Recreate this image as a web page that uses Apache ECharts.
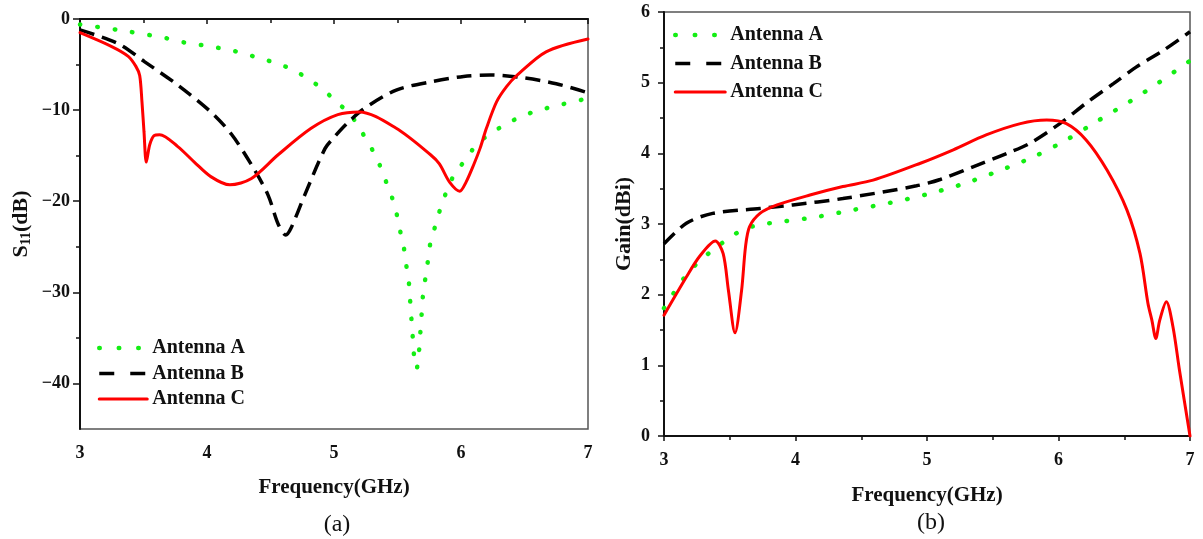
<!DOCTYPE html>
<html>
<head>
<meta charset="utf-8">
<title>Antenna S11 and Gain</title>
<script src="https://cdn.jsdelivr.net/npm/echarts@6/dist/echarts.min.js"></script>
<style>
  html, body { margin: 0; padding: 0; background: #fff; }
  #chart { width: 1203px; height: 539px; }
</style>
</head>
<body>
<div id="chart"></div>
<script>
// ---- Reflection coefficient S11 (dB) vs frequency (GHz) ----
const s11FreqA = [3.0, 3.3, 3.59, 3.71, 3.85, 3.99, 4.14, 4.27, 4.4, 4.55, 4.68, 4.8, 4.91, 5.02, 5.13, 5.2, 5.28, 5.35, 5.4, 5.45, 5.49, 5.52, 5.55, 5.57, 5.59, 5.6, 5.61, 5.62, 5.63, 5.65, 5.67, 5.68, 5.69, 5.7, 5.72, 5.74, 5.76, 5.8, 5.84, 5.89, 5.95, 6.05, 6.12, 6.23, 6.36, 6.49, 6.62, 6.77, 6.91, 7.0];
const s11A     = [-0.6, -1.2, -1.87, -2.2, -2.67, -2.93, -3.3, -3.7, -4.25, -4.87, -5.6, -6.6, -7.7, -9.1, -10.5, -12.0, -13.8, -15.7, -17.5, -19.3, -21.2, -23.2, -25.1, -27.1, -29.0, -31.0, -33.0, -34.9, -36.9, -38.4, -36.4, -34.4, -32.4, -30.4, -28.4, -26.5, -24.5, -22.6, -20.7, -18.8, -17.0, -15.2, -13.8, -12.6, -11.5, -10.6, -10.0, -9.45, -9.0, -8.7];

const s11FreqB = [3.0, 3.3, 3.51, 3.77, 4.03, 4.19, 4.35, 4.48, 4.56, 4.62, 4.66, 4.77, 4.93, 5.0, 5.1, 5.23, 5.49, 5.76, 6.02, 6.23, 6.49, 6.75, 7.0];
const s11B     = [-1.2, -2.7, -4.7, -7.25, -10.2, -12.6, -16.0, -19.3, -22.5, -23.7, -23.0, -19.3, -14.2, -13.0, -11.5, -9.9, -7.8, -6.9, -6.3, -6.15, -6.45, -7.1, -8.1];

const s11FreqC = [3.0, 3.246, 3.38, 3.44, 3.47, 3.488, 3.504, 3.522, 3.549, 3.583, 3.627, 3.77, 3.9, 4.03, 4.18, 4.35, 4.56, 4.82, 5.03, 5.2, 5.49, 5.76, 5.83, 5.91, 5.99, 6.04, 6.1, 6.15, 6.2, 6.28, 6.36, 6.44, 6.67, 7.0];
const s11C     = [-1.5, -3.0, -4.1, -5.2, -6.2, -9.1, -12.4, -15.7, -13.8, -12.8, -12.7, -14.0, -15.7, -17.3, -18.2, -17.5, -14.9, -12.0, -10.5, -10.2, -12.0, -14.9, -15.9, -17.9, -18.9, -17.9, -16.0, -14.2, -12.0, -9.1, -7.4, -6.2, -3.6, -2.2];

// ---- Gain (dBi) vs frequency (GHz) ----
const gainFreqA = [3.0, 3.15, 3.25, 3.37, 3.48, 3.6, 3.73, 3.88, 4.16, 4.44, 4.72, 5.0, 5.28, 5.53, 5.81, 6.06, 6.29, 6.54, 6.77, 7.0];
const gainA     = [1.81, 2.23, 2.44, 2.63, 2.78, 2.92, 2.99, 3.03, 3.10, 3.20, 3.30, 3.42, 3.57, 3.74, 3.95, 4.19, 4.45, 4.73, 5.01, 5.31];

const gainFreqB = [3.0, 3.17, 3.37, 3.73, 3.98, 4.36, 4.92, 5.1, 5.35, 5.61, 5.78, 6.01, 6.21, 6.42, 6.59, 6.8, 7.0];
const gainB     = [2.72, 3.01, 3.15, 3.22, 3.27, 3.36, 3.54, 3.63, 3.81, 4.0, 4.14, 4.42, 4.71, 4.99, 5.22, 5.46, 5.72];

const gainFreqC = [3.0, 3.17, 3.27, 3.39, 3.45, 3.49, 3.54, 3.59, 3.62, 3.65, 3.73, 3.86, 4.11, 4.36, 4.59, 4.95, 5.2, 5.45, 5.71, 5.91, 6.06, 6.21, 6.37, 6.52, 6.62, 6.68, 6.71, 6.74, 6.77, 6.82, 6.87, 6.92, 7.0];
const gainC     = [1.71, 2.25, 2.54, 2.76, 2.58, 2.06, 1.46, 2.06, 2.68, 2.96, 3.15, 3.27, 3.41, 3.53, 3.62, 3.86, 4.05, 4.26, 4.42, 4.47, 4.42, 4.19, 3.76, 3.20, 2.58, 1.88, 1.64, 1.38, 1.64, 1.90, 1.55, 0.93, 0.0];

// Axis tick values
const freqTicks = [3, 4, 5, 6, 7];
const s11MajorTicks = [-40, -30, -20, -10, 0];
const s11MinorTicks = [-35, -25, -15, -5];
const seriesNames = ['Antenna A', 'Antenna B', 'Antenna C'];

const zip = (xs, ys) => xs.map((x, i) => [x, ys[i]]);

const SERIF = '"Liberation Serif", "Times New Roman", serif';
const GREEN = '#14ee14';
const styles = [
  { color: GREEN, width: 4.5, type: [0.5, 17], cap: 'round' },
  { color: '#000000', width: 3.5, type: [15, 8], cap: 'butt' },
  { color: '#ff0000', width: 3, type: 'solid', cap: 'round' }
];

function lineSeries(name, data, xi, yi, st) {
  return {
    type: 'line', name: name, data: data,
    xAxisIndex: xi, yAxisIndex: yi,
    symbol: 'none', smooth: 0.3,
    color: st.color,
    lineStyle: { color: st.color, width: st.width, type: st.type, cap: st.cap },
    z: st.color === '#ff0000' ? 3 : 2,
    animation: false
  };
}

// legend entries carry their own line look
const legendItems = seriesNames.map((n, i) => ({
  name: n,
  lineStyle: { color: styles[i].color, width: styles[i].width, type: i === 0 ? [0.5, 19] : (i === 1 ? [15, 16] : 'solid'), cap: styles[i].cap }
}));

const tickLabel = { fontFamily: SERIF, fontWeight: 'bold', fontSize: 18, color: '#111' };
const axisLineStyle = { lineStyle: { color: '#111', width: 2 } };
const nameStyle = { fontFamily: SERIF, fontWeight: 'bold', fontSize: 21, color: '#111' };
const legendText = { fontFamily: SERIF, fontWeight: 'bold', fontSize: 20, color: '#111' };
const fmtMinus = v => String(v).replace('-', '\u2212');

const option = {
  backgroundColor: '#ffffff',
  animation: false,
  grid: [
    { left: 80, top: 19, right: 615, bottom: 110, show: true, borderColor: '#555', borderWidth: 1.5, backgroundColor: 'transparent' },
    { left: 664, top: 12, right: 13, bottom: 103, show: true, borderColor: '#555', borderWidth: 1.5, backgroundColor: 'transparent' }
  ],
  xAxis: [0, 1].map(g => ({
    type: 'value', gridIndex: g, min: 3, max: 7, interval: 1,
    name: 'Frequency(GHz)', nameLocation: 'middle', nameGap: g === 0 ? 48 : 49,
    nameTextStyle: nameStyle,
    axisLine: axisLineStyle,
    axisTick: { show: true, inside: false, length: 5, lineStyle: { color: '#111', width: 1.5 } },
    minorTick: { show: true, splitNumber: 2, length: 4, lineStyle: { color: '#111', width: 1.5 } },
    axisLabel: { ...tickLabel, margin: 15, customValues: freqTicks },
    splitLine: { show: false }, minorSplitLine: { show: false }
  })),
  yAxis: [
    {
      type: 'value', gridIndex: 0, min: -45, max: 0, position: 'left',
      name: '{s|S}{sub|11}{s|(dB)}', nameLocation: 'middle', nameGap: 47, nameRotate: 90,
      nameTextStyle: {
        rich: {
          s: { fontFamily: SERIF, fontWeight: 'bold', fontSize: 22, color: '#111' },
          sub: { fontFamily: SERIF, fontWeight: 'bold', fontSize: 14, color: '#111', verticalAlign: 'bottom', padding: [9, 0, 0, 0] }
        }
      },
      axisLine: axisLineStyle,
      axisTick: { show: true, inside: false, length: 7, lineStyle: { color: '#111', width: 1.5 }, customValues: s11MajorTicks },
      axisLabel: { ...tickLabel, margin: 10, customValues: s11MajorTicks, formatter: fmtMinus },
      splitLine: { show: false }
    },
    {
      // minor ticks of the S11 axis
      type: 'value', gridIndex: 0, min: -45, max: 0, position: 'left', offset: 0,
      axisLine: { show: false },
      axisTick: { show: true, inside: false, length: 4, lineStyle: { color: '#111', width: 1.5 }, customValues: s11MinorTicks },
      axisLabel: { show: false },
      splitLine: { show: false }
    },
    {
      type: 'value', gridIndex: 1, min: 0, max: 6, interval: 1, position: 'left',
      name: 'Gain(dBi)', nameLocation: 'middle', nameGap: 29, nameRotate: 90,
      nameTextStyle: { ...nameStyle, fontSize: 22 },
      axisLine: axisLineStyle,
      axisTick: { show: true, inside: false, length: 6, lineStyle: { color: '#111', width: 1.5 } },
      minorTick: { show: true, splitNumber: 2, length: 4, lineStyle: { color: '#111', width: 1.5 } },
      axisLabel: { ...tickLabel, margin: 14 },
      splitLine: { show: false }, minorSplitLine: { show: false }
    }
  ],
  legend: [
    {
      orient: 'vertical', left: 97, top: 338, padding: 0,
      itemWidth: 48, itemHeight: 14, itemGap: 5.5,
      itemStyle: { opacity: 0 },
      textStyle: legendText,
      data: legendItems, selectedMode: false
    },
    {
      orient: 'vertical', left: 673, top: 25, padding: 0,
      itemWidth: 50, itemHeight: 14, itemGap: 8.5,
      itemStyle: { opacity: 0 },
      textStyle: legendText,
      data: legendItems, selectedMode: false
    }
  ],
  graphic: [
    { type: 'text', x: 337, y: 525, style: { text: '(a)', font: '24px ' + SERIF, fill: '#111', align: 'center', verticalAlign: 'middle' } },
    { type: 'text', x: 931, y: 523, style: { text: '(b)', font: '24px ' + SERIF, fill: '#111', align: 'center', verticalAlign: 'middle' } }
  ],
  series: [
    lineSeries(seriesNames[0], zip(s11FreqA, s11A), 0, 0, styles[0]),
    lineSeries(seriesNames[1], zip(s11FreqB, s11B), 0, 0, styles[1]),
    lineSeries(seriesNames[2], zip(s11FreqC, s11C), 0, 0, styles[2]),
    lineSeries(seriesNames[0], zip(gainFreqA, gainA), 1, 2, styles[0]),
    lineSeries(seriesNames[1], zip(gainFreqB, gainB), 1, 2, styles[1]),
    lineSeries(seriesNames[2], zip(gainFreqC, gainC), 1, 2, styles[2])
  ]
};

const chart = echarts.init(document.getElementById('chart'), null, { renderer: 'canvas' });
chart.setOption(option);
</script>
</body>
</html>
